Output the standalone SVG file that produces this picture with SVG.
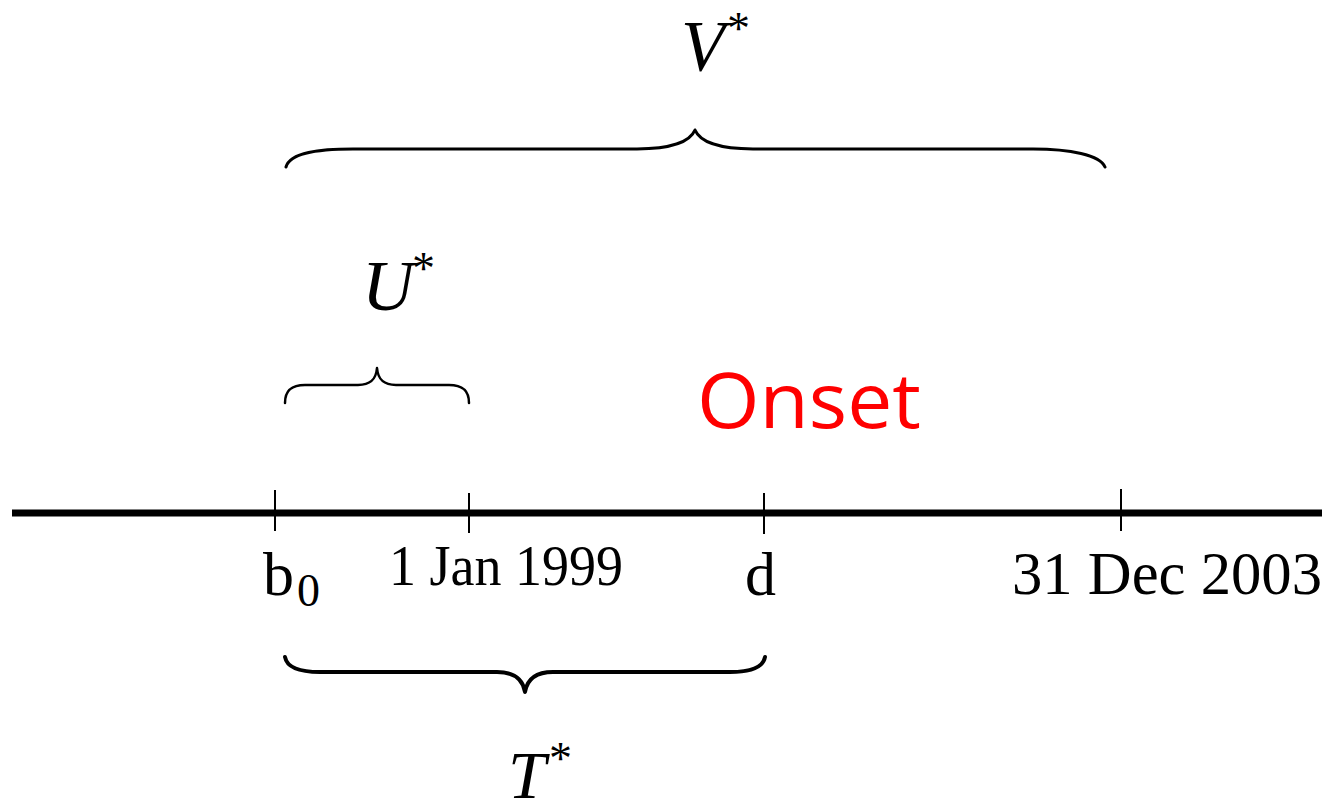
<svg xmlns="http://www.w3.org/2000/svg" width="1331" height="808" viewBox="0 0 1331 808">
<style>
.serif{font-family:"Liberation Serif","Times New Roman",serif;fill:#000}
.it{font-style:italic}
.brace{fill:none;stroke:#000;stroke-linecap:round;stroke-linejoin:round}
.tick{stroke:#000;stroke-width:2}
</style>
<rect width="1331" height="808" fill="#fff"/>
<g id="axis">
<line x1="12" y1="513" x2="1322" y2="513" stroke="#000" stroke-width="7"/>
<line class="tick" x1="275" y1="490" x2="275" y2="531"/>
<line class="tick" x1="469" y1="493" x2="469" y2="533"/>
<line class="tick" x1="764" y1="493" x2="764" y2="534"/>
<line class="tick" x1="1121" y1="489" x2="1121" y2="531"/>
</g>
<g id="labels">
<text class="serif" x="263" y="595" font-size="62">b</text>
<text class="serif" x="297" y="606" font-size="46">0</text>
<text class="serif" x="389" y="585" font-size="56" textLength="234" lengthAdjust="spacingAndGlyphs">1 Jan 1999</text>
<text class="serif" x="745" y="595" font-size="62">d</text>
<text class="serif" x="1012" y="594" font-size="61" textLength="310" lengthAdjust="spacingAndGlyphs">31 Dec 2003</text>
</g>
<g id="onset">
<text x="697" y="428" font-family="Open Sans, Noto Sans, sans-serif" font-size="76" fill="#ff0000" textLength="224" lengthAdjust="spacingAndGlyphs">Onset</text>
</g>
<g id="V">
<path class="brace" stroke-width="3" d="M286,167 C290,152 320,149 353,149 L637,149 C670,149 690,142 695,130 C700,142 720,149 753,149 L1033,149 C1070,149 1100,155 1105,167"/>
<text class="serif it" x="681" y="70" font-size="72">V</text>
<text class="serif" x="727" y="44" font-size="46">*</text>
</g>
<g id="U">
<path class="brace" stroke-width="2.5" d="M285,403 C285,390 292,385 305,385 L358,385 C370,385 376,380 377,368 C378,380 384,385 396,385 L449,385 C462,385 469,390 469,403"/>
<text class="serif it" x="362" y="310" font-size="72">U</text>
<text class="serif" x="412" y="284" font-size="46">*</text>
</g>
<g id="T">
<path class="brace" stroke-width="4" d="M285,657 C287,668 300,672 320,672 L497,672 C515,672 523,680 525,692 C527,680 535,672 553,672 L730,672 C750,672 763,668 765,657"/>
<text class="serif it" x="508" y="798" font-size="68">T</text>
<text class="serif" x="549" y="774" font-size="46">*</text>
</g>
</svg>
